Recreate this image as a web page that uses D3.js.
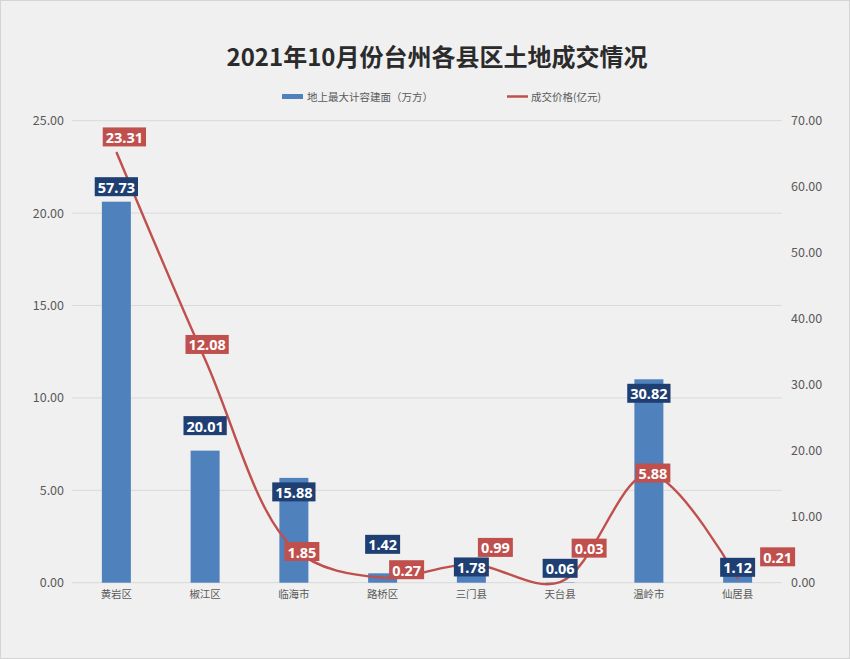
<!DOCTYPE html>
<html>
<head>
<meta charset="utf-8">
<style>
  html, body { margin: 0; padding: 0; background: #f0f0f0; }
  svg { display: block; font-family: "Noto Sans CJK SC", "Noto Sans", sans-serif; }
</style>
</head>
<body>
<div id="chart"></div>
<script src="https://d3js.org/d3.v7.min.js"></script>
<script>
// data
const categories = ['黄岩区', '椒江区', '临海市', '路桥区', '三门县', '天台县', '温岭市', '仙居县'];
const areaValues = [57.73, 20.01, 15.88, 1.42, 1.78, 0.06, 30.82, 1.12];   // 地上最大计容建面（万方）, right axis
const priceValues = [23.31, 12.08, 1.85, 0.27, 0.99, 0.03, 5.88, 0.21];   // 成交价格(亿元), left axis
const leftTicks = [0, 5, 10, 15, 20, 25];
const rightTicks = [0, 10, 20, 30, 40, 50, 60, 70];

// label nudges (layout only)
const areaLabelDy = [-15, -25, 14, -29, -4, -14, 14, -8];
const priceLabelShift = [[8, -15], [2, -15], [8, 3], [24, -8], [24, -17], [29, -34], [4, -1], [40, -22]];

const width = 850, height = 659;
const plot = { left: 72, right: 782, top: 120.7, bottom: 582.7 };

const svg = d3.select('#chart').append('svg')
    .attr('width', width)
    .attr('height', height);

svg.append('rect')
    .attr('x', 0.5).attr('y', 0.5)
    .attr('width', width - 1).attr('height', height - 1)
    .attr('fill', '#f0f0f0')
    .attr('stroke', '#d4d4d4');

// title
svg.append('text')
    .attr('x', 437).attr('y', 66)
    .attr('text-anchor', 'middle')
    .attr('font-size', 24)
    .attr('font-weight', 'bold')
    .attr('fill', '#2b2b2b')
    .text('2021年10月份台州各县区土地成交情况');

// scales
const x = d3.scaleBand().domain(categories).range([plot.left, plot.right]);
const yLeft = d3.scaleLinear().domain([0, 25]).range([plot.bottom, plot.top]);
const yRight = d3.scaleLinear().domain([0, 70]).range([plot.bottom, plot.top]);
const cx = d => x(d) + x.bandwidth() / 2;
const barW = 29;

// gridlines
svg.append('g').selectAll('line')
    .data(leftTicks)
    .join('line')
    .attr('x1', plot.left).attr('x2', plot.right)
    .attr('y1', d => yLeft(d)).attr('y2', d => yLeft(d))
    .attr('stroke', '#d9d9d9')
    .attr('stroke-width', 1);

// axes
const fmt = d3.format('.2f');
const leftAxis = svg.append('g')
    .attr('transform', `translate(${plot.left - 8},0)`)
    .call(d3.axisLeft(yLeft).tickValues(leftTicks).tickFormat(fmt).tickSize(0).tickPadding(0));
const rightAxis = svg.append('g')
    .attr('transform', `translate(${plot.right + 9},0)`)
    .call(d3.axisRight(yRight).tickValues(rightTicks).tickFormat(fmt).tickSize(0).tickPadding(0));
const bottomAxis = svg.append('g')
    .attr('transform', `translate(0,${plot.bottom})`)
    .call(d3.axisBottom(x).tickSize(0).tickPadding(8));

[leftAxis, rightAxis, bottomAxis].forEach(a => {
  a.select('.domain').remove();
  a.selectAll('text')
    .attr('fill', '#595959')
    .attr('font-family', '"Noto Sans CJK SC", "Noto Sans", sans-serif');
});
leftAxis.selectAll('text').attr('font-size', 12.5);
rightAxis.selectAll('text').attr('font-size', 12.5);
bottomAxis.selectAll('text').attr('font-size', 10.5);

// bars
svg.append('g').selectAll('rect')
    .data(categories)
    .join('rect')
    .attr('x', (d, i) => cx(d) - barW / 2)
    .attr('y', (d, i) => yRight(areaValues[i]))
    .attr('width', barW)
    .attr('height', (d, i) => plot.bottom - yRight(areaValues[i]))
    .attr('fill', '#4f81bd');

// smoothed line
const line = d3.line()
    .x((d, i) => cx(categories[i]))
    .y(d => yLeft(d))
    .curve(d3.curveCatmullRom.alpha(0.5));

svg.append('path')
    .datum(priceValues)
    .attr('d', line)
    .attr('fill', 'none')
    .attr('stroke', '#c0504d')
    .attr('stroke-width', 2.4);

// labels
function boxLabel(g, px, py, txt, fill) {
  const grp = g.append('g');
  const t = grp.append('text')
      .attr('x', px).attr('y', py)
      .attr('text-anchor', 'middle')
      .attr('dominant-baseline', 'central')
      .attr('font-family', '"Noto Sans", "DejaVu Sans", sans-serif')
      .attr('font-size', 14.5)
      .attr('font-weight', 'bold')
      .attr('fill', '#ffffff')
      .text(txt);
  const w = t.node().getComputedTextLength() + 6;
  grp.insert('rect', 'text')
      .attr('x', px - w / 2).attr('y', py - 9.5)
      .attr('width', w).attr('height', 19)
      .attr('fill', fill);
}

const labels = svg.append('g');
areaValues.forEach((v, i) => {
  boxLabel(labels, cx(categories[i]), yRight(v) + areaLabelDy[i], fmt(v), '#1f3f73');
});
priceValues.forEach((v, i) => {
  const [dx, dy] = priceLabelShift[i];
  boxLabel(labels, cx(categories[i]) + dx, yLeft(v) + dy, fmt(v), '#c0504d');
});

// legend
const legend = svg.append('g').attr('font-size', 10.5).attr('fill', '#595959');
legend.append('rect')
    .attr('x', 282).attr('y', 94)
    .attr('width', 21).attr('height', 5)
    .attr('fill', '#4f81bd');
legend.append('text')
    .attr('x', 307).attr('y', 96.5)
    .attr('dominant-baseline', 'central')
    .text('地上最大计容建面（万方）');
legend.append('line')
    .attr('x1', 507).attr('x2', 528)
    .attr('y1', 96.5).attr('y2', 96.5)
    .attr('stroke', '#c0504d')
    .attr('stroke-width', 2.5);
legend.append('text')
    .attr('x', 531).attr('y', 96.5)
    .attr('dominant-baseline', 'central')
    .text('成交价格(亿元)');
</script>
</body>
</html>
